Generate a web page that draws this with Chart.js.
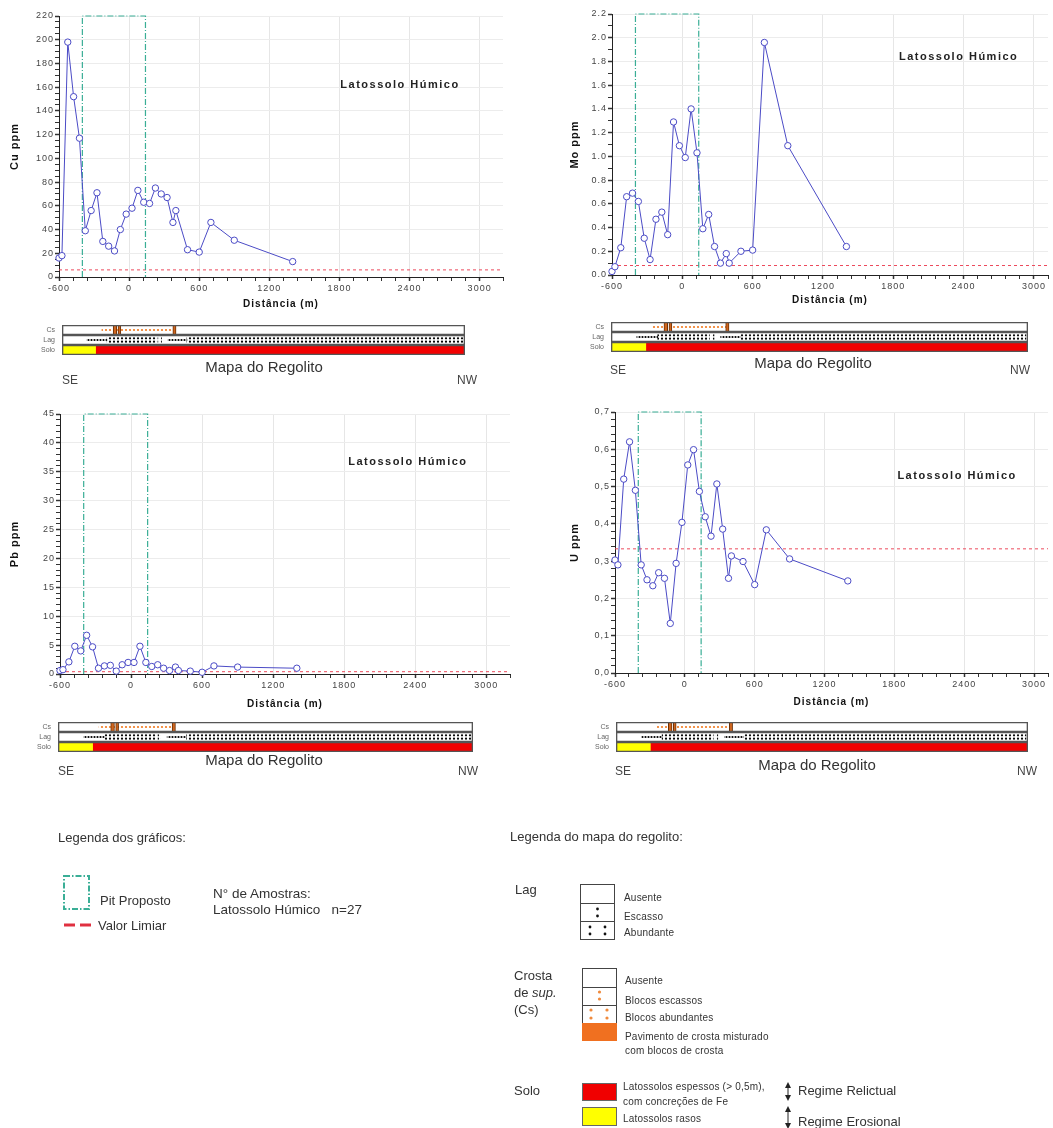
<!DOCTYPE html>
<html>
<head>
<meta charset="utf-8">
<script src="https://cdn.jsdelivr.net/npm/chart.js@4.4.1/dist/chart.umd.min.js"></script>
<style>
  body { margin: 0; background: #fff; width: 1053px; height: 1128px; position: relative; overflow: hidden;
         font-family: "Liberation Sans", Arial, sans-serif; color: #333; }
  .box { position: absolute; }
  .t { position: absolute; white-space: nowrap; transform: translateY(-50%); }
  .c { transform: translate(-50%, -50%); }
  .m { font-size: 15px; color: #333; }
  .d { font-size: 12px; color: #444; }
  .l { font-size: 10px; color: #333; letter-spacing: 0.2px; }
</style>
</head>
<body>

<div class="box" style="left:0;top:0;width:520px;height:312px"><canvas id="cu"></canvas></div>
<div class="box" style="left:560px;top:0;width:493px;height:310px"><canvas id="mo"></canvas></div>
<div class="box" style="left:0;top:398px;width:520px;height:312px"><canvas id="pb"></canvas></div>
<div class="box" style="left:560px;top:398px;width:493px;height:312px"><canvas id="u"></canvas></div>

<div class="box" style="left:0;top:320px;width:480px;height:40px"><canvas id="mapaCu"></canvas></div>
<div class="box" style="left:560px;top:317px;width:493px;height:40px"><canvas id="mapaMo"></canvas></div>
<div class="box" style="left:0;top:717px;width:490px;height:40px"><canvas id="mapaPb"></canvas></div>
<div class="box" style="left:560px;top:717px;width:493px;height:40px"><canvas id="mapaU"></canvas></div>

<div class="t c m" style="left:264px;top:366px">Mapa do Regolito</div>
<div class="t d" style="left:62px;top:380px">SE</div>
<div class="t d" style="left:457px;top:380px">NW</div>
<div class="t c m" style="left:813px;top:362px">Mapa do Regolito</div>
<div class="t d" style="left:610px;top:370px">SE</div>
<div class="t d" style="left:1010px;top:370px">NW</div>
<div class="t c m" style="left:264px;top:759px">Mapa do Regolito</div>
<div class="t d" style="left:58px;top:771px">SE</div>
<div class="t d" style="left:458px;top:771px">NW</div>
<div class="t c m" style="left:817px;top:764px">Mapa do Regolito</div>
<div class="t d" style="left:615px;top:771px">SE</div>
<div class="t d" style="left:1017px;top:771px">NW</div>

<svg class="box" style="left:0;top:0" width="1053" height="1128">
  <defs>
    <marker id="seta" markerWidth="6" markerHeight="6" refX="3" refY="3" orient="auto-start-reverse">
      <path d="M0,0 L6,3 L0,6 z" fill="#222"/>
    </marker>
  </defs>
  <rect x="64" y="876" width="25" height="33" fill="none" stroke="#3aae96" stroke-width="2" stroke-dasharray="6,2,1.5,2"/>
  <line x1="64" y1="925" x2="75" y2="925" stroke="#e03040" stroke-width="3"/>
  <line x1="80" y1="925" x2="91" y2="925" stroke="#e03040" stroke-width="3"/>

  <g stroke="#444" stroke-width="1" fill="#fff">
    <rect x="580.5" y="884.5" width="34" height="19"/>
    <rect x="580.5" y="903.5" width="34" height="18"/>
    <rect x="580.5" y="921.5" width="34" height="18"/>
    <rect x="582.5" y="968.5" width="34" height="19"/>
    <rect x="582.5" y="987.5" width="34" height="18"/>
    <rect x="582.5" y="1005.5" width="34" height="18"/>
  </g>
  <rect x="582" y="1023" width="35" height="18" fill="#f07020"/>
  <g fill="#111">
    <circle cx="597.5" cy="909" r="1.4"/><circle cx="597.5" cy="916" r="1.4"/>
    <circle cx="590" cy="927" r="1.4"/><circle cx="590" cy="934" r="1.4"/>
    <circle cx="605" cy="927" r="1.4"/><circle cx="605" cy="934" r="1.4"/>
  </g>
  <g fill="#f08a3c">
    <circle cx="599.5" cy="992" r="1.6"/><circle cx="599.5" cy="999" r="1.6"/>
    <circle cx="591" cy="1010" r="1.6"/><circle cx="591" cy="1018" r="1.6"/>
    <circle cx="607" cy="1010" r="1.6"/><circle cx="607" cy="1018" r="1.6"/>
  </g>
  <rect x="582.5" y="1083.5" width="34" height="17" fill="#f00000" stroke="#666"/>
  <rect x="582.5" y="1107.5" width="34" height="18" fill="#ffff00" stroke="#666"/>
  <line x1="788" y1="1085" x2="788" y2="1098" stroke="#222" stroke-width="1" marker-start="url(#seta)" marker-end="url(#seta)"/>
  <line x1="788" y1="1109" x2="788" y2="1126" stroke="#222" stroke-width="1" marker-start="url(#seta)" marker-end="url(#seta)"/>
</svg>

<div class="t" style="left:58px;top:837px;font-size:13px">Legenda dos gráficos:</div>
<div class="t" style="left:100px;top:900px;font-size:13px">Pit Proposto</div>
<div class="t" style="left:98px;top:925px;font-size:13px">Valor Limiar</div>
<div class="t" style="left:213px;top:893px;font-size:13.5px">N° de Amostras:</div>
<div class="t" style="left:213px;top:909px;font-size:13.5px">Latossolo Húmico &nbsp; n=27</div>

<div class="t" style="left:510px;top:836px;font-size:13px">Legenda do mapa do regolito:</div>
<div class="t" style="left:515px;top:889px;font-size:13px">Lag</div>
<div class="t l" style="left:624px;top:897px">Ausente</div>
<div class="t l" style="left:624px;top:916px">Escasso</div>
<div class="t l" style="left:624px;top:932px">Abundante</div>
<div class="t" style="left:514px;top:975px;font-size:13px">Crosta</div>
<div class="t" style="left:514px;top:992px;font-size:13px">de <i>sup.</i></div>
<div class="t" style="left:514px;top:1009px;font-size:13px">(Cs)</div>
<div class="t l" style="left:625px;top:980px">Ausente</div>
<div class="t l" style="left:625px;top:1000px">Blocos escassos</div>
<div class="t l" style="left:625px;top:1017px">Blocos abundantes</div>
<div class="t l" style="left:625px;top:1036px">Pavimento de crosta misturado</div>
<div class="t l" style="left:625px;top:1050px">com blocos de crosta</div>
<div class="t" style="left:514px;top:1090px;font-size:13px">Solo</div>
<div class="t l" style="left:623px;top:1086px">Latossolos espessos (&gt; 0,5m),</div>
<div class="t l" style="left:623px;top:1101px">com concreções de Fe</div>
<div class="t l" style="left:623px;top:1118px">Latossolos rasos</div>
<div class="t" style="left:798px;top:1090px;font-size:13px">Regime Relictual</div>
<div class="t" style="left:798px;top:1121px;font-size:13px">Regime Erosional</div>

<script>
// distância ao longo do perfil (m) - mesmas amostras nos quatro gráficos
const distancias = [-600, -575, -525, -475, -425, -375, -325, -275, -225, -175, -125, -75, -25, 25,
  75, 125, 175, 225, 275, 325, 375, 400, 500, 600, 700, 900, 1400];

const cuPpm = [16, 18, 198, 152, 117, 39, 56, 71, 30, 26, 22, 40, 53, 58, 73, 63, 62, 75, 70, 67,
  46, 56, 23, 21, 46, 31, 13];
const moPpm = [0.03, 0.07, 0.23, 0.66, 0.69, 0.62, 0.31, 0.13, 0.47, 0.53, 0.34, 1.29, 1.09, 0.99,
  1.40, 1.03, 0.39, 0.51, 0.24, 0.10, 0.18, 0.10, 0.20, 0.21, 1.96, 1.09, 0.24];
const pbPpm = [0.6, 0.75, 2.1, 4.8, 4.0, 6.7, 4.7, 1.0, 1.4, 1.5, 0.5, 1.6, 2.0, 2.0, 4.8, 2.0, 1.3,
  1.6, 1.0, 0.6, 1.2, 0.6, 0.5, 0.3, 1.4, 1.2, 1.0];
const uPpm = [0.303, 0.29, 0.52, 0.62, 0.49, 0.29, 0.25, 0.234, 0.269, 0.254, 0.133, 0.294, 0.404,
  0.558, 0.599, 0.487, 0.419, 0.367, 0.507, 0.386, 0.254, 0.314, 0.299, 0.237, 0.384, 0.306, 0.247];

// valor limiar de cada elemento
const cuLimiar = 6;
const moLimiar = 0.08;
const pbLimiar = 0.4;
const uLimiar = 0.333;

// limites do pit proposto (m)
const pitInicio = -400;
const pitFim = 140;

// mapa do regolito: trechos em % do perfil, de SE para NW
const linhasMapa = ["Cs", "Lag", "Solo"];
const csEscasso = [[9.9, 28]];
const csPavimento = [[12.7, 13.6], [13.9, 14.6], [27.5, 28.3]];
const lagEscasso = [[6.2, 11.2], [26.3, 31]];
const lagAbundante = [[11.2, 23.6], [24.1, 24.7], [31, 99.5]];
const soloRaso = [[0, 8.5]];
const soloEspesso = [[8.5, 100]];

const fonte = '"Liberation Sans", Arial, sans-serif';
const azul = "#4b4bc6";

const textoPlugin = {
  id: "texto",
  beforeDraw(chart) {
    chart.ctx.letterSpacing = "1px";
  },
  afterDraw(chart, args, o) {
    if (!o.texto) return;
    const a = chart.chartArea;
    const ctx = chart.ctx;
    ctx.save();
    ctx.font = "bold 11px " + fonte;
    ctx.letterSpacing = "1.5px";
    ctx.fillStyle = "#222";
    ctx.textAlign = "center";
    ctx.textBaseline = "middle";
    ctx.fillText(o.texto, a.left + o.fx * (a.right - a.left), a.top + o.fy * (a.bottom - a.top));
    ctx.restore();
  },
};

function multiplo(v, passo) {
  const r = v / passo;
  return Math.abs(r - Math.round(r)) < 1e-6;
}

function desenhaGrafico(id, valores, cfg) {
  const pontos = distancias.map((d, i) => ({ x: d, y: valores[i] }));
  new Chart(document.getElementById(id), {
    type: "line",
    plugins: [textoPlugin],
    data: {
      datasets: [
        {
          data: pontos,
          borderColor: azul,
          borderWidth: 1,
          pointRadius: 3.2,
          pointBackgroundColor: "#fff",
          pointBorderColor: azul,
          pointBorderWidth: 1,
          clip: false,
        },
        {
          data: [
            { x: pitInicio, y: 0 },
            { x: pitInicio, y: cfg.yMax },
            { x: pitFim, y: cfg.yMax },
            { x: pitFim, y: 0 },
          ],
          borderColor: "#3aae96",
          borderWidth: 1.2,
          borderDash: [6, 2, 1, 2],
          pointRadius: 0,
          clip: false,
        },
        {
          data: [
            { x: -600, y: cfg.limiar },
            { x: cfg.xMax, y: cfg.limiar },
          ],
          borderColor: "#ec4a5c",
          borderWidth: 1,
          borderDash: [3, 3],
          pointRadius: 0,
        },
      ],
    },
    options: {
      responsive: true,
      maintainAspectRatio: false,
      animation: false,
      events: [],
      layout: { padding: { left: 0, top: cfg.padTop, right: cfg.padRight, bottom: 0 } },
      plugins: {
        legend: { display: false },
        tooltip: { enabled: false },
        texto: { texto: "Latossolo Húmico", fx: cfg.fx, fy: cfg.fy },
      },
      scales: {
        x: {
          type: "linear",
          min: -600,
          max: cfg.xMax,
          afterFit: (s) => { s.height = cfg.xHeight; },
          ticks: {
            stepSize: 120,
            autoSkip: false,
            maxRotation: 0,
            padding: 2,
            color: "#444",
            font: { size: 9, family: fonte },
            callback: (v) => (multiplo(v, 600) ? String(v) : ""),
          },
          grid: {
            color: (c) => (c.tick && multiplo(c.tick.value, 600) ? "#e6e6e6" : "rgba(0,0,0,0)"),
            tickColor: "#333",
            tickWidth: (c) => (c.tick && multiplo(c.tick.value, 600) ? 1.5 : 1),
            tickLength: 4,
          },
          border: { color: "#222", width: 1 },
          title: {
            display: true,
            text: "Distância (m)",
            color: "#111",
            font: { size: 10, weight: "bold", family: fonte },
            padding: { top: 0, bottom: cfg.titlePad },
          },
        },
        y: {
          min: 0,
          max: cfg.yMax,
          afterFit: (s) => { s.width = cfg.yWidth; },
          ticks: {
            stepSize: cfg.yMinor,
            autoSkip: false,
            padding: 1,
            color: "#444",
            font: { size: 9, family: fonte },
            callback: (v) => (multiplo(v, cfg.yMajor) ? v.toFixed(cfg.dec).replace(".", cfg.sep) : ""),
          },
          grid: {
            color: (c) => (c.tick && multiplo(c.tick.value, cfg.yMajor) && c.tick.value > 0 ? "#ececec" : "rgba(0,0,0,0)"),
            tickColor: "#333",
            tickWidth: (c) => (c.tick && multiplo(c.tick.value, cfg.yMajor) ? 1.5 : 1),
            tickLength: 4,
          },
          border: { color: "#222", width: 1 },
          title: {
            display: true,
            text: cfg.titulo,
            color: "#111",
            font: { size: 11, weight: "bold", family: fonte },
            padding: { top: 8, bottom: 0 },
          },
        },
      },
    },
  });
}

function itens(trechos, linha) {
  return trechos.map(([a, b]) => ({ x: [a, b], y: linha }));
}

function desenhaMapa(id, yWidth, padRight) {
  const canvas = document.getElementById(id);
  const ctx = canvas.getContext("2d");
  const padrao = (w, h, cor, r, pts) => {
    const c = document.createElement("canvas");
    c.width = w;
    c.height = h;
    const g = c.getContext("2d");
    g.fillStyle = cor;
    pts.forEach(([px, py]) => {
      g.beginPath();
      g.arc(px, py, r, 0, Math.PI * 2);
      g.fill();
    });
    return ctx.createPattern(c, "repeat");
  };
  const pLagAb = padrao(4, 10, "#000", 1.1, [[2, 3.3], [2, 6.7]]);
  const pLagEs = padrao(3, 10, "#000", 1.1, [[1.5, 5]]);
  const pCs = padrao(4, 10, "#f07a20", 1.1, [[2, 5]]);

  const barra = (data, cor, extra) =>
    Object.assign({ data, backgroundColor: cor, borderWidth: 0, grouped: false, barPercentage: 1, categoryPercentage: 1 }, extra || {});

  new Chart(canvas, {
    type: "bar",
    plugins: [
      {
        id: "alinhaPadroes",
        beforeDatasetsDraw(chart) {
          const m = new DOMMatrix([1, 0, 0, 1, 0, chart.chartArea.top]);
          [pLagAb, pLagEs, pCs].forEach((p) => p.setTransform(m));
        },
      },
    ],
    data: {
      labels: linhasMapa,
      datasets: [
        barra(linhasMapa.map((l) => ({ x: [0, 100], y: l })), "rgba(0,0,0,0)",
          { borderWidth: 1, borderColor: "#555", borderSkipped: false }),
        barra(itens(csPavimento, "Cs"), "#d0661e", { borderWidth: 1, borderColor: "#6a3008", borderSkipped: false }),
        barra(itens(csEscasso, "Cs"), pCs),
        barra(itens(lagAbundante, "Lag"), pLagAb),
        barra(itens(lagEscasso, "Lag"), pLagEs),
        barra(itens(soloEspesso, "Solo"), "#f20000"),
        barra(itens(soloRaso, "Solo"), "#ffff00"),
      ],
    },
    options: {
      indexAxis: "y",
      responsive: true,
      maintainAspectRatio: false,
      animation: false,
      events: [],
      layout: { padding: { left: 0, top: 5, right: padRight, bottom: 5 } },
      plugins: { legend: { display: false }, tooltip: { enabled: false } },
      scales: {
        x: { type: "linear", min: 0, max: 100, display: false },
        y: {
          type: "category",
          afterFit: (s) => {
            s.width = yWidth;
            s.paddingTop = 0;
            s.paddingBottom = 0;
          },
          grid: { display: false, drawTicks: false },
          border: { display: false },
          ticks: { color: "#666", padding: 7, autoSkip: false, font: { size: 7, family: fonte } },
        },
      },
    },
  });
}

desenhaGrafico("cu", cuPpm, { titulo: "Cu ppm", yMax: 220, yMajor: 20, yMinor: 5, dec: 0, sep: ".", limiar: cuLimiar,
  xMax: 3200, padTop: 16, padRight: 17, yWidth: 59, xHeight: 35, titlePad: 2, fx: 0.768, fy: 0.264 });
desenhaGrafico("mo", moPpm, { titulo: "Mo ppm", yMax: 2.2, yMajor: 0.2, yMinor: 0.1, dec: 1, sep: ".", limiar: moLimiar,
  xMax: 3120, padTop: 14, padRight: 1, yWidth: 52, xHeight: 35, titlePad: 4, fx: 0.795, fy: 0.165 });
desenhaGrafico("pb", pbPpm, { titulo: "Pb ppm", yMax: 45, yMajor: 5, yMinor: 1, dec: 0, sep: ".", limiar: pbLimiar,
  xMax: 3200, padTop: 16, padRight: 10, yWidth: 60, xHeight: 36, titlePad: 0, fx: 0.773, fy: 0.185 });
desenhaGrafico("u", uPpm, { titulo: "U ppm", yMax: 0.7, yMajor: 0.1, yMinor: 0.02, dec: 1, sep: ",", limiar: uLimiar,
  xMax: 3120, padTop: 14, padRight: 1, yWidth: 55, xHeight: 37, titlePad: 2, fx: 0.79, fy: 0.245 });

desenhaMapa("mapaCu", 62, 15);
desenhaMapa("mapaMo", 51, 25);
desenhaMapa("mapaPb", 58, 17);
desenhaMapa("mapaU", 56, 25);
</script>
</body>
</html>
